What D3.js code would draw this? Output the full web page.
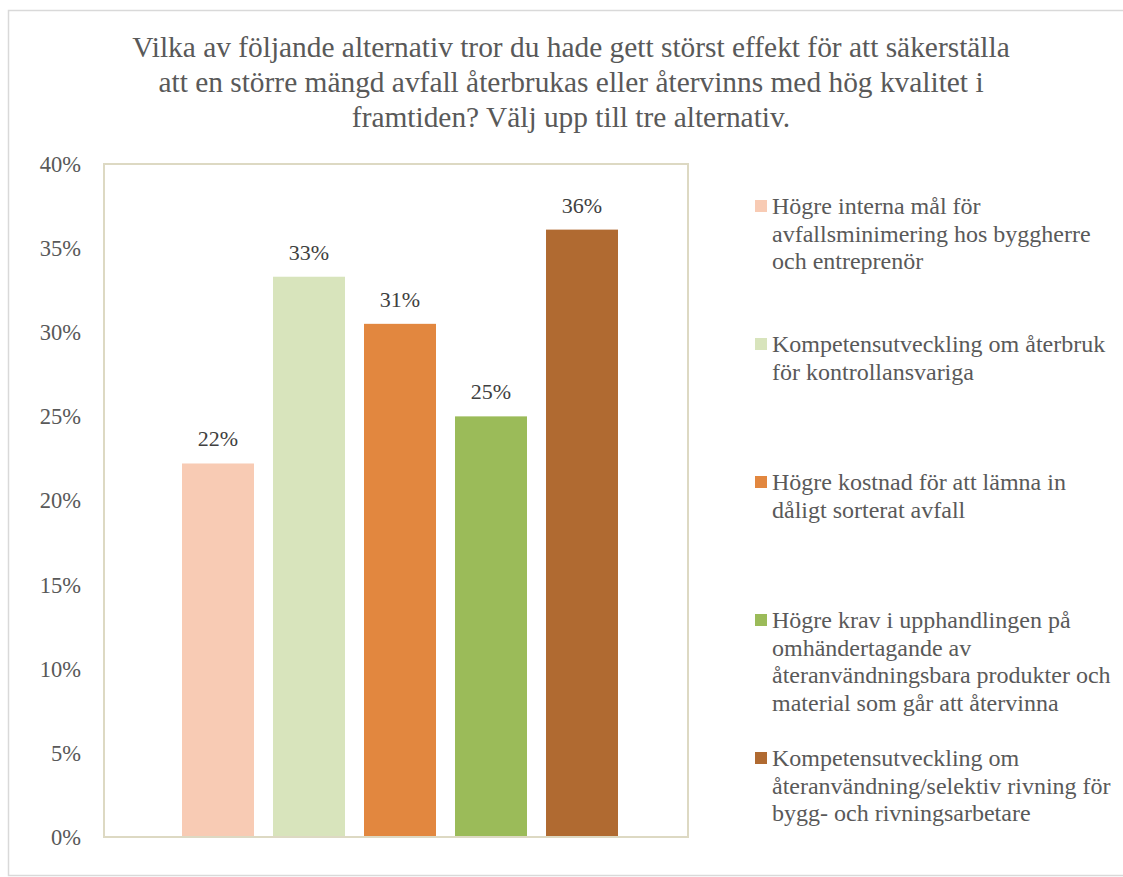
<!DOCTYPE html>
<html>
<head>
<meta charset="utf-8">
<script src="https://cdn.jsdelivr.net/npm/d3@7"></script>
<style>
html,body{margin:0;padding:0;background:#fff;}
svg{display:block;}
svg text{font-family:"Liberation Serif","Times New Roman",serif;}
</style>
</head>
<body>
<svg id="chart" width="1123" height="877"></svg>
<script>
const titleLines = [
  "Vilka av följande alternativ tror du hade gett störst effekt för att säkerställa",
  "att en större mängd avfall återbrukas eller återvinns med hög kvalitet i",
  "framtiden? Välj upp till tre alternativ."
];
const seriesNames = [
  "Högre interna mål för\navfallsminimering hos byggherre\noch entreprenör",
  "Kompetensutveckling om återbruk\nför kontrollansvariga",
  "Högre kostnad för att lämna in\ndåligt sorterat avfall",
  "Högre krav i upphandlingen på\nomhändertagande av\nåteranvändningsbara produkter och\nmaterial som går att återvinna",
  "Kompetensutveckling om\nåteranvändning/selektiv rivning för\nbygg- och rivningsarbetare"
];
const seriesValues = [0.222, 0.333, 0.305, 0.25, 0.361];
const seriesColors = ["#F8CBB4", "#D8E4BC", "#E2873F", "#9BBB59", "#B06A31"];
const yTicks = [0, 0.05, 0.10, 0.15, 0.20, 0.25, 0.30, 0.35, 0.40];

const svg = d3.select("#chart");

// outer chart border
svg.append("rect").attr("x", 8.5).attr("y", 10.5).attr("width", 1130).attr("height", 865)
  .attr("fill", "#fff").attr("stroke", "#D9D9D9").attr("stroke-width", 1.5);

// title
svg.append("text")
  .attr("text-anchor", "middle")
  .attr("fill", "#595959")
  .style("font-size", "29.4px")
  .selectAll("tspan").data(titleLines).join("tspan")
  .attr("x", 571).attr("y", (d, i) => 57 + i * 35)
  .text(d => d);

const plot = {left: 104, right: 688, top: 164, bottom: 837};

const y = d3.scaleLinear().domain([0, 0.40]).range([plot.bottom, plot.top]);
const x = d3.scaleBand().domain(d3.range(seriesNames.length))
  .range([plot.left + 78, plot.right - 70]).paddingInner(0.209).paddingOuter(0);

// plot area border
svg.append("rect")
  .attr("x", plot.left).attr("y", plot.top)
  .attr("width", plot.right - plot.left).attr("height", plot.bottom - plot.top)
  .attr("fill", "none").attr("stroke", "#DDD9C3").attr("stroke-width", 2);

// bars
svg.append("g").selectAll("rect").data(seriesValues).join("rect")
  .attr("x", (d, i) => x(i))
  .attr("width", x.bandwidth())
  .attr("y", d => y(d))
  .attr("height", d => y(0) - y(d))
  .attr("fill", (d, i) => seriesColors[i]);

// redraw bottom axis line on top of bars
svg.append("line").attr("x1", plot.left).attr("x2", plot.right)
  .attr("y1", plot.bottom).attr("y2", plot.bottom)
  .attr("stroke", "#DDD9C3").attr("stroke-width", 2);

// value labels
svg.append("g").selectAll("text").data(seriesValues).join("text")
  .attr("x", (d, i) => x(i) + x.bandwidth() / 2)
  .attr("y", d => y(d) - 17)
  .attr("text-anchor", "middle")
  .attr("fill", "#404040")
  .style("font-size", "22px")
  .text(d => d3.format(".0%")(d));

// y axis
const yAxis = d3.axisLeft(y).tickValues(yTicks).tickFormat(d3.format(".0%")).tickSize(0).tickPadding(23);
const ga = svg.append("g").attr("transform", `translate(${plot.left},0)`).call(yAxis);
ga.attr("font-family", null);
ga.select(".domain").remove();
ga.selectAll("text")
  .attr("fill", "#595959")
  .style("font-size", "22.5px")
  .attr("dy", "0.33em");

// legend
const leg = svg.append("g");
seriesNames.forEach((name, i) => {
  const base = 214 + i * 138;
  leg.append("rect").attr("x", 755).attr("y", base - 14).attr("width", 12).attr("height", 12)
    .attr("fill", seriesColors[i]);
  leg.append("text")
    .attr("fill", "#595959")
    .style("font-size", "24px")
    .selectAll("tspan").data(name.split("\n")).join("tspan")
    .attr("x", 772).attr("y", (d, j) => base + j * 27.5)
    .text(d => d);
});
</script>
</body>
</html>
